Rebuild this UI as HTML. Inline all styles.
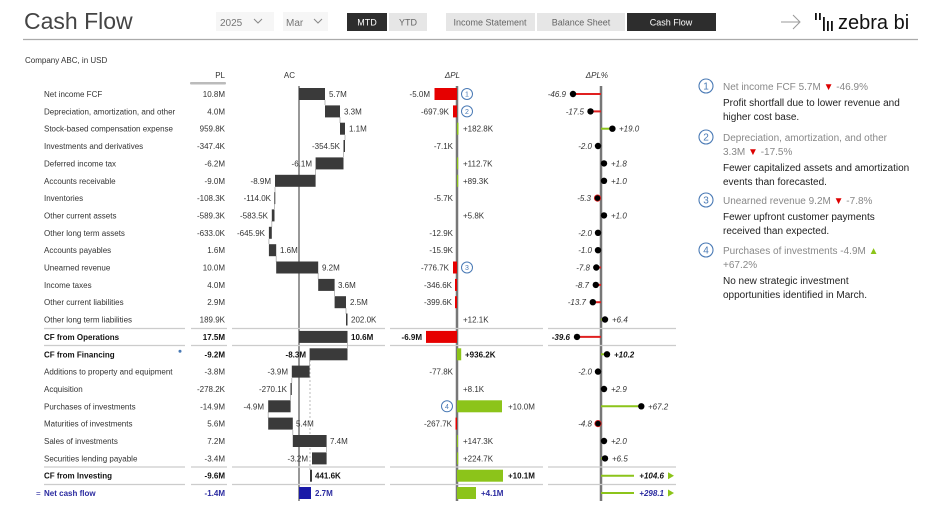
<!DOCTYPE html>
<html><head><meta charset="utf-8"><style>
html,body{margin:0;padding:0;background:#fff;width:939px;height:510px;overflow:hidden}
svg text{font-family:"Liberation Sans",sans-serif;font-size:8px;fill:#333}
.r{text-anchor:end}.i{font-style:italic}.bd{font-weight:bold;fill:#111}
.b{fill:#3a3a3a}.g{fill:#8cc41a}.rd{fill:#e60000}
.gl{stroke:#8cc41a;stroke-width:2}.rl{stroke:#e02020;stroke-width:2}
.sep{stroke:#ccc;stroke-width:1.2}
.cn{stroke:#aaa;stroke-width:0.8}
</style></head><body>
<svg width="939" height="510" viewBox="0 0 939 510" xmlns="http://www.w3.org/2000/svg">
<!-- header -->
<text x="24" y="29" style="font-size:23px;fill:#444">Cash Flow</text>
<line x1="23" y1="39.5" x2="918" y2="39.5" stroke="#aaa" stroke-width="1.2"/>
<rect x="216" y="12" width="58" height="19" fill="#f6f6f6"/>
<text x="220" y="26" style="font-size:10px;fill:#777">2025</text>
<path d="M254 19 l4 4 l4 -4" fill="none" stroke="#888"/>
<rect x="283" y="12" width="45" height="19" fill="#f6f6f6"/>
<text x="286" y="26" style="font-size:10px;fill:#777">Mar</text>
<path d="M314 19 l4 4 l4 -4" fill="none" stroke="#888"/>
<rect x="347" y="13" width="40" height="18" fill="#2d2d2d"/>
<text x="367" y="25.5" style="font-size:9px;fill:#fff;text-anchor:middle">MTD</text>
<rect x="389" y="13" width="38" height="18" fill="#e6e6e6"/>
<text x="408" y="25.5" style="font-size:9px;fill:#666;text-anchor:middle">YTD</text>
<rect x="446" y="13" width="89" height="18" fill="#e6e6e6"/>
<text x="490" y="25.5" style="font-size:9px;fill:#666;text-anchor:middle">Income Statement</text>
<rect x="537" y="13" width="88" height="18" fill="#e6e6e6"/>
<text x="581" y="25.5" style="font-size:9px;fill:#666;text-anchor:middle">Balance Sheet</text>
<rect x="627" y="13" width="89" height="18" fill="#2d2d2d"/>
<text x="671" y="25.5" style="font-size:9px;fill:#fff;text-anchor:middle">Cash Flow</text>
<path d="M781 22 h18 M793 15 l7 7 l-7 7" fill="none" stroke="#999" stroke-width="1"/>
<g fill="#111"><rect x="815" y="13" width="1.8" height="7"/><rect x="819" y="13" width="1.8" height="7"/><rect x="823" y="17" width="1.8" height="14"/><rect x="827" y="21" width="1.8" height="10"/><rect x="831" y="21" width="1.8" height="10"/></g>
<text x="838" y="29" style="font-size:20px;fill:#111">zebra bi</text>

<text x="25" y="63" style="font-size:8px">Company ABC, in USD</text>
<text x="225" y="78" class="r">PL</text>
<rect x="190" y="82" width="36" height="2.5" fill="#bbb" rx="1"/>
<text x="295" y="78" class="r">AC</text>
<text x="460" y="78" class="r i">ΔPL</text>
<text x="608" y="78" class="r i">ΔPL%</text>

<!-- axes -->
<line x1="299" y1="86" x2="299" y2="501" stroke="#777" stroke-width="1.5"/>
<line x1="457" y1="86" x2="457" y2="501" stroke="#777" stroke-width="2.5"/>
<line x1="601" y1="86" x2="601" y2="501" stroke="#777" stroke-width="2.5"/>
<line x1="310" y1="360" x2="310" y2="470" stroke="#aaa" stroke-width="0.8" stroke-dasharray="2,2"/>

<!-- separators -->
<g class="sep">
<path d="M44 328.5H185M191 328.5H227M232 328.5H385M390 328.5H543M548 328.5H676"/>
<path d="M44 345.5H185M191 345.5H227M232 345.5H385M390 345.5H543M548 345.5H676"/>
<path d="M44 467H185M191 467H227M232 467H385M390 467H543M548 467H676"/>
<path d="M44 484.5H185M191 484.5H227M232 484.5H385M390 484.5H543M548 484.5H676"/>
</g>

<!-- connectors AC -->
<g class="cn">
<line x1="325" x2="325" y1="100" y2="105"/>
<line x1="340" x2="340" y1="117" y2="123"/>
<line x1="345" x2="345" y1="135" y2="140"/>
<line x1="343.5" x2="343.5" y1="152" y2="157"/>
<line x1="315.6" x2="315.6" y1="169" y2="175"/>
<line x1="275" x2="275" y1="187" y2="192"/>
<line x1="274.5" x2="274.5" y1="204" y2="209"/>
<line x1="271.8" x2="271.8" y1="221" y2="227"/>
<line x1="268.9" x2="268.9" y1="239" y2="244"/>
<line x1="276.2" x2="276.2" y1="256" y2="262"/>
<line x1="318.2" x2="318.2" y1="273" y2="279"/>
<line x1="334.6" x2="334.6" y1="291" y2="296"/>
<line x1="346" x2="346" y1="308" y2="314"/>
<line x1="347.5" x2="347.5" y1="343" y2="348"/>
<line x1="309.6" x2="309.6" y1="360" y2="366"/>
<line x1="291.8" x2="291.8" y1="378" y2="383"/>
<line x1="290.6" x2="290.6" y1="395" y2="400"/>
<line x1="268.2" x2="268.2" y1="412" y2="418"/>
<line x1="292.8" x2="292.8" y1="430" y2="435"/>
<line x1="326.6" x2="326.6" y1="447" y2="452"/>
</g>

<!-- rows -->
<g transform="translate(0,94)">
<text x="44" y="3">Net income FCF</text><text x="225" y="3" class="r">10.8M</text>
<rect x="299" y="-6" width="26" height="12" class="b"/><text x="329" y="3">5.7M</text>
<rect x="434.5" y="-6" width="22.5" height="12" class="rd"/><text x="430" y="3" class="r">-5.0M</text>
<line x1="601" x2="573" y1="0" y2="0" class="rl"/><circle cx="573" cy="0" r="3.2"/><text x="566" y="3" class="r i">-46.9</text>
</g>
<g transform="translate(0,111.4)">
<text x="44" y="3">Depreciation, amortization, and other</text><text x="225" y="3" class="r">4.0M</text>
<rect x="325" y="-6" width="15" height="12" class="b"/><text x="344" y="3">3.3M</text>
<rect x="453" y="-6" width="4" height="12" class="rd"/><text x="449" y="3" class="r">-697.9K</text>
<line x1="601" x2="590.5" y1="0" y2="0" class="rl"/><circle cx="590.5" cy="0" r="3.2"/><text x="584" y="3" class="r i">-17.5</text>
</g>
<g transform="translate(0,128.7)">
<text x="44" y="3">Stock-based compensation expense</text><text x="225" y="3" class="r">959.8K</text>
<rect x="340" y="-6" width="5" height="12" class="b"/><text x="349" y="3">1.1M</text>
<rect x="457" y="-6" width="1.5" height="12" class="g"/><text x="463" y="3">+182.8K</text>
<line x1="601" x2="612.4" y1="0" y2="0" class="gl"/><circle cx="612.4" cy="0" r="3.2"/><text x="619" y="3" class="i">+19.0</text>
</g>
<g transform="translate(0,146)">
<text x="44" y="3">Investments and derivatives</text><text x="225" y="3" class="r">-347.4K</text>
<rect x="343.5" y="-6" width="1.5" height="12" class="b"/><text x="340" y="3" class="r">-354.5K</text>
<text x="453" y="3" class="r">-7.1K</text>
<circle cx="598" cy="0" r="3.2"/><text x="592" y="3" class="r i">-2.0</text>
</g>
<g transform="translate(0,163.4)">
<text x="44" y="3">Deferred income tax</text><text x="225" y="3" class="r">-6.2M</text>
<rect x="315.6" y="-6" width="27.9" height="12" class="b"/><text x="312" y="3" class="r">-6.1M</text>
<rect x="457" y="-6" width="1.2" height="12" class="g"/><text x="463" y="3">+112.7K</text>
<circle cx="604" cy="0" r="3.2"/><text x="611" y="3" class="i">+1.8</text>
</g>
<g transform="translate(0,180.8)">
<text x="44" y="3">Accounts receivable</text><text x="225" y="3" class="r">-9.0M</text>
<rect x="275" y="-6" width="40.6" height="12" class="b"/><text x="271" y="3" class="r">-8.9M</text>
<rect x="457" y="-6" width="1.2" height="12" class="g"/><text x="463" y="3">+89.3K</text>
<circle cx="604" cy="0" r="3.2"/><text x="611" y="3" class="i">+1.0</text>
</g>
<g transform="translate(0,198.1)">
<text x="44" y="3">Inventories</text><text x="225" y="3" class="r">-108.3K</text>
<rect x="274.3" y="-6" width="1" height="12" class="b"/><text x="271" y="3" class="r">-114.0K</text>
<text x="453" y="3" class="r">-5.7K</text>
<circle cx="597.5" cy="0" r="3.2" stroke="#e02020" stroke-width="0.8"/><text x="591" y="3" class="r i">-5.3</text>
</g>
<g transform="translate(0,215.4)">
<text x="44" y="3">Other current assets</text><text x="225" y="3" class="r">-589.3K</text>
<rect x="271.8" y="-6" width="2.7" height="12" class="b"/><text x="268" y="3" class="r">-583.5K</text>
<text x="463" y="3">+5.8K</text>
<circle cx="604" cy="0" r="3.2"/><text x="611" y="3" class="i">+1.0</text>
</g>
<g transform="translate(0,232.8)">
<text x="44" y="3">Other long term assets</text><text x="225" y="3" class="r">-633.0K</text>
<rect x="268.9" y="-6" width="2.9" height="12" class="b"/><text x="265" y="3" class="r">-645.9K</text>
<text x="453" y="3" class="r">-12.9K</text>
<circle cx="598" cy="0" r="3.2"/><text x="592" y="3" class="r i">-2.0</text>
</g>
<g transform="translate(0,250.2)">
<text x="44" y="3">Accounts payables</text><text x="225" y="3" class="r">1.6M</text>
<rect x="268.9" y="-6" width="7.3" height="12" class="b"/><text x="280" y="3">1.6M</text>
<text x="453" y="3" class="r">-15.9K</text>
<circle cx="598" cy="0" r="3.2"/><text x="592" y="3" class="r i">-1.0</text>
</g>
<g transform="translate(0,267.5)">
<text x="44" y="3">Unearned revenue</text><text x="225" y="3" class="r">10.0M</text>
<rect x="276.2" y="-6" width="42" height="12" class="b"/><text x="322" y="3">9.2M</text>
<rect x="453" y="-6" width="4" height="12" class="rd"/><text x="449" y="3" class="r">-776.7K</text>
<line x1="601" x2="596.3" y1="0" y2="0" class="rl"/><circle cx="596.3" cy="0" r="3.2"/><text x="590" y="3" class="r i">-7.8</text>
</g>
<g transform="translate(0,284.9)">
<text x="44" y="3">Income taxes</text><text x="225" y="3" class="r">4.0M</text>
<rect x="318.2" y="-6" width="16.4" height="12" class="b"/><text x="338" y="3">3.6M</text>
<rect x="455" y="-6" width="2" height="12" class="rd"/><text x="452" y="3" class="r">-346.6K</text>
<line x1="601" x2="595.8" y1="0" y2="0" class="rl"/><circle cx="595.8" cy="0" r="3.2"/><text x="589" y="3" class="r i">-8.7</text>
</g>
<g transform="translate(0,302.2)">
<text x="44" y="3">Other current liabilities</text><text x="225" y="3" class="r">2.9M</text>
<rect x="334.6" y="-6" width="11.4" height="12" class="b"/><text x="350" y="3">2.5M</text>
<rect x="455" y="-6" width="2" height="12" class="rd"/><text x="452" y="3" class="r">-399.6K</text>
<line x1="601" x2="592.8" y1="0" y2="0" class="rl"/><circle cx="592.8" cy="0" r="3.2"/><text x="586" y="3" class="r i">-13.7</text>
</g>
<g transform="translate(0,319.5)">
<text x="44" y="3">Other long term liabilities</text><text x="225" y="3" class="r">189.9K</text>
<rect x="346" y="-6" width="1.5" height="12" class="b"/><text x="351" y="3">202.0K</text>
<text x="463" y="3">+12.1K</text>
<line x1="601" x2="605" y1="0" y2="0" class="gl"/><circle cx="605" cy="0" r="3.2"/><text x="612" y="3" class="i">+6.4</text>
</g>
<g transform="translate(0,336.9)">
<text x="44" y="3" class="bd">CF from Operations</text><text x="225" y="3" class="r bd">17.5M</text>
<rect x="299" y="-6" width="48.5" height="12" class="b"/><text x="351" y="3" class="bd">10.6M</text>
<rect x="426" y="-6" width="31" height="12" class="rd"/><text x="422" y="3" class="r bd">-6.9M</text>
<line x1="601" x2="577" y1="0" y2="0" class="rl"/><circle cx="577" cy="0" r="3.2"/><text x="570" y="3" class="r i bd">-39.6</text>
</g>
<g transform="translate(0,354.3)">
<text x="44" y="3" class="bd">CF from Financing</text><circle cx="180" cy="-3" r="1.5" fill="#4a7ab5"/><text x="225" y="3" class="r bd">-9.2M</text>
<rect x="309.6" y="-6" width="37.9" height="12" class="b"/><text x="306" y="3" class="r bd">-8.3M</text>
<rect x="457" y="-6" width="4.2" height="12" class="g"/><text x="465" y="3" class="bd">+936.2K</text>
<line x1="601" x2="607" y1="0" y2="0" class="gl"/><circle cx="607" cy="0" r="3.2"/><text x="614" y="3" class="i bd">+10.2</text>
</g>
<g transform="translate(0,371.6)">
<text x="44" y="3">Additions to property and equipment</text><text x="225" y="3" class="r">-3.8M</text>
<rect x="291.8" y="-6" width="17.8" height="12" class="b"/><text x="288" y="3" class="r">-3.9M</text>
<text x="453" y="3" class="r">-77.8K</text>
<circle cx="598" cy="0" r="3.2"/><text x="592" y="3" class="r i">-2.0</text>
</g>
<g transform="translate(0,389)">
<text x="44" y="3">Acquisition</text><text x="225" y="3" class="r">-278.2K</text>
<rect x="290.5" y="-6" width="1.3" height="12" class="b"/><text x="287" y="3" class="r">-270.1K</text>
<text x="463" y="3">+8.1K</text>
<circle cx="604" cy="0" r="3.2"/><text x="611" y="3" class="i">+2.9</text>
</g>
<g transform="translate(0,406.3)">
<text x="44" y="3">Purchases of investments</text><text x="225" y="3" class="r">-14.9M</text>
<rect x="268.2" y="-6" width="22.4" height="12" class="b"/><text x="264" y="3" class="r">-4.9M</text>
<rect x="457" y="-6" width="45" height="12" class="g"/><text x="508" y="3">+10.0M</text>
<line x1="601" x2="641.3" y1="0" y2="0" class="gl"/><circle cx="641.3" cy="0" r="3.2"/><text x="648" y="3" class="i">+67.2</text>
</g>
<g transform="translate(0,423.6)">
<text x="44" y="3">Maturities of investments</text><text x="225" y="3" class="r">5.6M</text>
<rect x="268.2" y="-6" width="24.6" height="12" class="b"/><text x="296" y="3">5.4M</text>
<rect x="455.5" y="-6" width="1.5" height="12" class="rd"/><text x="452" y="3" class="r">-267.7K</text>
<circle cx="598" cy="0" r="3.2" stroke="#e02020" stroke-width="0.8"/><text x="592" y="3" class="r i">-4.8</text>
</g>
<g transform="translate(0,441)">
<text x="44" y="3">Sales of investments</text><text x="225" y="3" class="r">7.2M</text>
<rect x="292.8" y="-6" width="33.8" height="12" class="b"/><text x="330" y="3">7.4M</text>
<rect x="457" y="-6" width="1" height="12" class="g"/><text x="463" y="3">+147.3K</text>
<circle cx="604" cy="0" r="3.2"/><text x="611" y="3" class="i">+2.0</text>
</g>
<g transform="translate(0,458.4)">
<text x="44" y="3">Securities lending payable</text><text x="225" y="3" class="r">-3.4M</text>
<rect x="312" y="-6" width="14.6" height="12" class="b"/><text x="308" y="3" class="r">-3.2M</text>
<rect x="457" y="-6" width="1.2" height="12" class="g"/><text x="463" y="3">+224.7K</text>
<line x1="601" x2="605" y1="0" y2="0" class="gl"/><circle cx="605" cy="0" r="3.2"/><text x="612" y="3" class="i">+6.5</text>
</g>
<g transform="translate(0,475.7)">
<text x="44" y="3" class="bd">CF from Investing</text><text x="225" y="3" class="r bd">-9.6M</text>
<rect x="310" y="-6" width="2" height="12" class="b"/><text x="315" y="3" class="bd">441.6K</text>
<rect x="457" y="-6" width="46" height="12" class="g"/><text x="508" y="3" class="bd">+10.1M</text>
<line x1="601" x2="634" y1="0" y2="0" class="gl"/><text x="664" y="3" class="r i bd">+104.6</text><path d="M668 -3.5 L674 0 L668 3.5Z" fill="#8cc41a"/>
</g>
<g transform="translate(0,493)">
<text x="36" y="3" style="fill:#2b2ba0">=</text><text x="44" y="3" class="bd" style="fill:#2b2ba0">Net cash flow</text><text x="225" y="3" class="r bd" style="fill:#2b2ba0">-1.4M</text>
<rect x="299" y="-6" width="12" height="12" fill="#1a1aa8"/><text x="315" y="3" class="bd" style="fill:#2b2ba0">2.7M</text>
<rect x="457" y="-6" width="19" height="12" class="g"/><text x="481" y="3" class="bd" style="fill:#2b2ba0">+4.1M</text>
<line x1="601" x2="634" y1="0" y2="0" class="gl"/><text x="664" y="3" class="r i bd" style="fill:#2b2ba0">+298.1</text><path d="M668 -3.5 L674 0 L668 3.5Z" fill="#8cc41a"/>
</g>

<!-- annotation circles in chart -->
<g fill="#fff" stroke="#4a7ab5" stroke-width="1">
<circle cx="467" cy="94" r="5.5"/><circle cx="467" cy="111.4" r="5.5"/><circle cx="467" cy="267.5" r="5.5"/><circle cx="447" cy="406.3" r="5.5"/>
</g>
<g style="font-size:7px" fill="#4a7ab5">
<text x="467" y="96.5" text-anchor="middle" style="font-size:7px;fill:#4a7ab5">1</text>
<text x="467" y="114" text-anchor="middle" style="font-size:7px;fill:#4a7ab5">2</text>
<text x="467" y="270" text-anchor="middle" style="font-size:7px;fill:#4a7ab5">3</text>
<text x="447" y="409" text-anchor="middle" style="font-size:7px;fill:#4a7ab5">4</text>
</g>

<!-- right panel -->
<g fill="#fff" stroke="#4a7ab5" stroke-width="1.1">
<circle cx="706" cy="86" r="7"/><circle cx="706" cy="137" r="7"/><circle cx="706" cy="200" r="7"/><circle cx="706" cy="250" r="7"/>
</g>
<text x="706" y="89.5" text-anchor="middle" style="font-size:10px;fill:#4a7ab5">1</text>
<text x="706" y="140.5" text-anchor="middle" style="font-size:10px;fill:#4a7ab5">2</text>
<text x="706" y="203.5" text-anchor="middle" style="font-size:10px;fill:#4a7ab5">3</text>
<text x="706" y="253.5" text-anchor="middle" style="font-size:10px;fill:#4a7ab5">4</text>
<g style="font-size:10px">
<text x="723" y="90" style="font-size:10px;fill:#888">Net income FCF 5.7M <tspan fill="#d00">▼</tspan> -46.9%</text>
<text x="723" y="106" style="font-size:10px;fill:#222">Profit shortfall due to lower revenue and</text>
<text x="723" y="120" style="font-size:10px;fill:#222">higher cost base.</text>
<text x="723" y="141" style="font-size:10px;fill:#888">Depreciation, amortization, and other</text>
<text x="723" y="155" style="font-size:10px;fill:#888">3.3M <tspan fill="#d00">▼</tspan> -17.5%</text>
<text x="723" y="171" style="font-size:10px;fill:#222">Fewer capitalized assets and amortization</text>
<text x="723" y="185" style="font-size:10px;fill:#222">events than forecasted.</text>
<text x="723" y="204" style="font-size:10px;fill:#888">Unearned revenue 9.2M <tspan fill="#d00">▼</tspan> -7.8%</text>
<text x="723" y="220" style="font-size:10px;fill:#222">Fewer upfront customer payments</text>
<text x="723" y="234" style="font-size:10px;fill:#222">received than expected.</text>
<text x="723" y="254" style="font-size:10px;fill:#888">Purchases of investments -4.9M <tspan fill="#8cc41a">▲</tspan></text>
<text x="723" y="268" style="font-size:10px;fill:#888">+67.2%</text>
<text x="723" y="284" style="font-size:10px;fill:#222">No new strategic investment</text>
<text x="723" y="298" style="font-size:10px;fill:#222">opportunities identified in March.</text>
</g>
</svg>
</body></html>
